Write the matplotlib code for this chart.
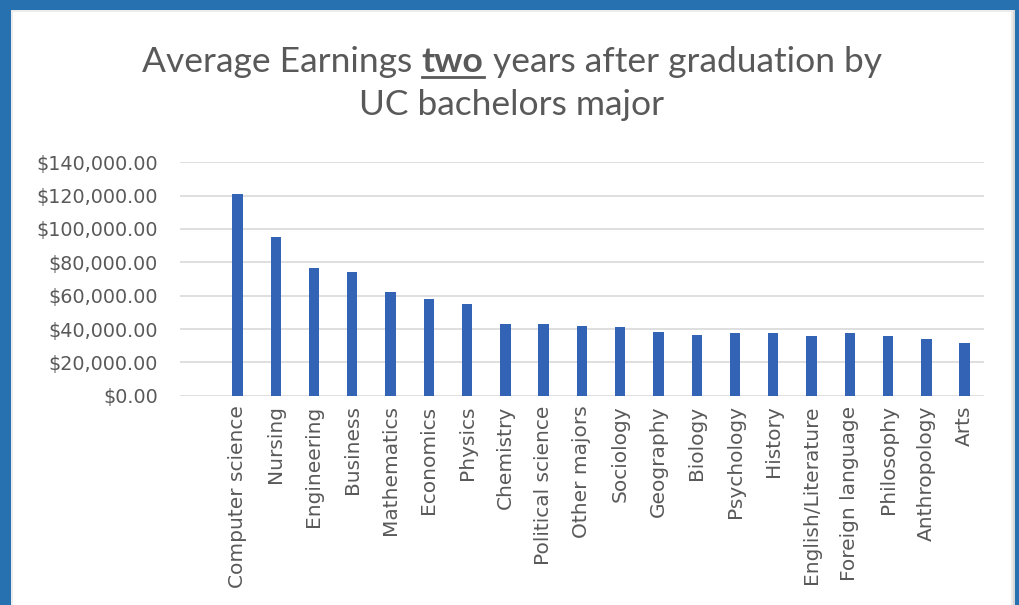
import matplotlib
matplotlib.use("Agg")
import matplotlib.pyplot as plt
from matplotlib.patches import Rectangle
from matplotlib.ticker import FuncFormatter
from matplotlib.lines import Line2D

majors = ["Computer science", "Nursing", "Engineering", "Business", "Mathematics",
          "Economics", "Physics", "Chemistry", "Political science", "Other majors",
          "Sociology", "Geography", "Biology", "Psychology", "History",
          "English/Literature", "Foreign language", "Philosophy", "Anthropology", "Arts"]
earnings = [120800, 95000, 76400, 74000, 62000, 58000, 55000, 43000, 43000, 42000,
            41200, 38000, 36400, 37400, 37400, 35800, 37400, 35800, 34200, 31800]
y_ticks = [0, 20000, 40000, 60000, 80000, 100000, 120000, 140000]

W, H = 1019, 605
fig = plt.figure(figsize=(W / 100, H / 100), dpi=100)
fig.patch.set_facecolor("#2771b0")

# white card with a soft grey edge inside the blue frame
def px_rect(x0, y0, x1, y1, color, z):
    fig.patches.append(Rectangle((x0 / W, 1 - y1 / H), (x1 - x0) / W, (y1 - y0) / H,
                                 transform=fig.transFigure, facecolor=color,
                                 edgecolor="none", zorder=z))

px_rect(11, 10, 1015, H + 2, "#d8d8d8", -3)
px_rect(11, 10, 1013, H + 2, "#ececec", -2.9)
px_rect(13, 12, 1011, H + 2, "#ffffff", -2.8)

title_font = "Lato"
tick_font = "DejaVu Sans"
text_col = "#595959"

ax = fig.add_axes([180 / W, 1 - 395.7 / H, (983.8 - 180) / W, (395.7 - 162.3) / H])
ax.set_zorder(2)
ax.set_facecolor("none")
x = list(range(len(majors)))
ax.bar(x, earnings, width=0.27, color="#3263b4", zorder=3)
ax.set_xlim(-1.5, len(majors) - 0.5)
ax.set_ylim(0, 140000)
ax.set_yticks(y_ticks)
ax.yaxis.set_major_formatter(FuncFormatter(lambda v, p: f"${v:,.2f}"))
ax.grid(axis="y", color="#d9d9d9", linewidth=1.2, zorder=0)
for s in ax.spines.values():
    s.set_visible(False)
ax.tick_params(axis="both", length=0, colors=text_col)
ax.tick_params(axis="y", pad=16)
ax.tick_params(axis="x", pad=7)
ax.set_xticks(x)
ax.set_xticklabels(majors, rotation=90, fontfamily=tick_font, fontsize=14.5,
                   color=text_col, va="top", ha="center")
for lab in ax.get_yticklabels():
    lab.set_fontfamily(tick_font)
    lab.set_fontsize(13.8)
    lab.set_color(text_col)

# title, with the word "two" in bold and underlined
renderer = fig.canvas.get_renderer()
tsize = 25.5
parts = [("Average Earnings ", "normal"), ("two", "bold"), (" years after graduation by", "normal")]
texts = []
for s, w in parts:
    t = fig.text(0, 0, s, fontsize=tsize, fontfamily=title_font, fontweight=w,
                 color=text_col, ha="left", va="baseline", zorder=3)
    texts.append(t)
widths = [t.get_window_extent(renderer).width for t in texts]
total = sum(widths)
cx = 512
base_y = H - 72
xpos = cx - total / 2
for t, wdt in zip(texts, widths):
    t.set_position((xpos / W, base_y / H))
    xpos += wdt
ux0 = cx - total / 2 + widths[0]
fig.lines.append(Line2D([ux0 / W, (ux0 + widths[1]) / W], [(base_y - 5) / H] * 2,
                        transform=fig.transFigure, color=text_col, linewidth=2, zorder=3))
fig.text(cx / W, (H - 115) / H, "UC bachelors major", fontsize=tsize,
         fontfamily=title_font, color=text_col, ha="center", va="baseline", zorder=3)

fig.savefig("out.png", dpi=100, facecolor=fig.get_facecolor())
